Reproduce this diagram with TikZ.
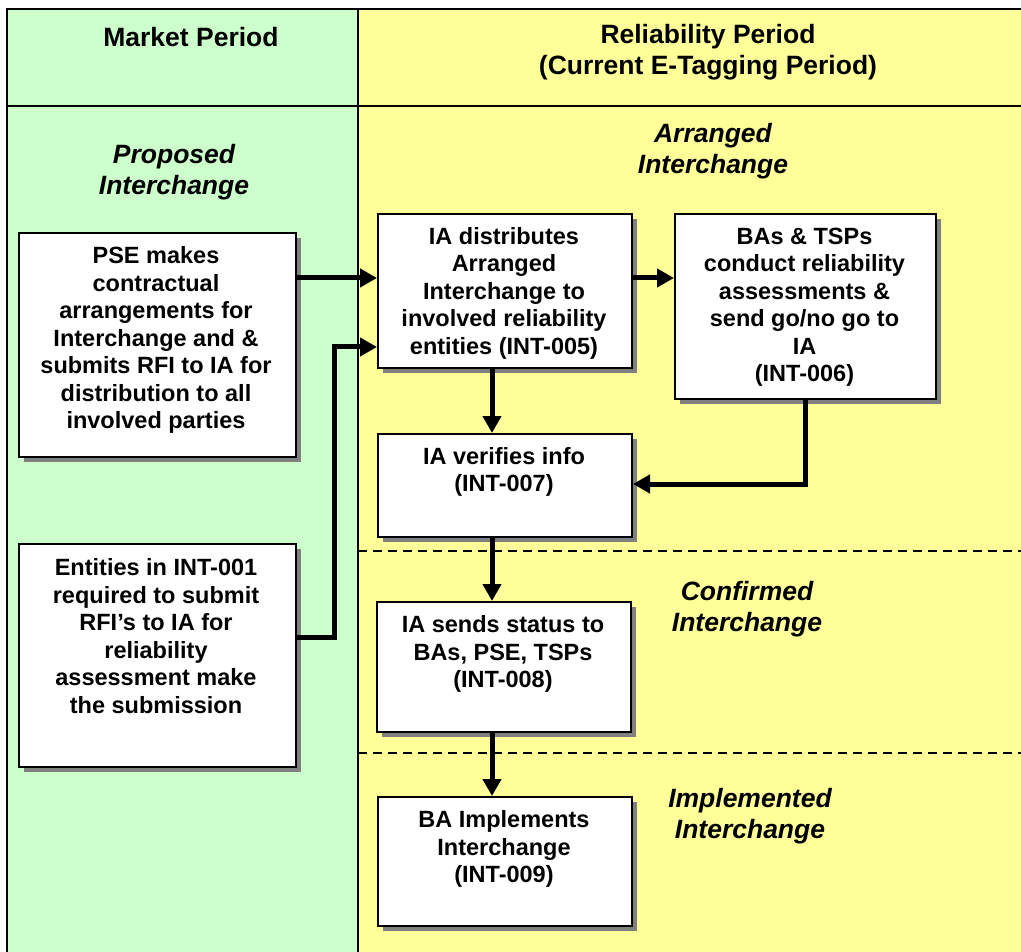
\documentclass[tikz,border=0pt]{standalone}
\usepackage{fontspec}
\setmainfont{Liberation Sans}
\usetikzlibrary{arrows.meta,shadows}
\definecolor{mkgreen}{HTML}{CCFFCC}
\definecolor{relyellow}{HTML}{FFFF99}
\definecolor{shadowgray}{HTML}{808080}
\begin{document}
\begin{tikzpicture}[x=1pt,y=-1pt,
  box/.style={draw=black, line width=2pt, fill=white, inner sep=0pt, anchor=north west,
    drop shadow={shadow xshift=5pt, shadow yshift=-5pt, fill=shadowgray, opacity=1}},
  boxtext/.style={align=center, font=\fontsize{23.5}{27.5}\selectfont\bfseries, inner sep=0pt},
  hdr/.style={align=center, font=\fontsize{26.5}{31}\selectfont\bfseries, inner sep=0pt},
  phase/.style={align=center, font=\fontsize{26.5}{30.5}\selectfont\bfseries\itshape, inner sep=0pt},
  arr/.style={line width=5pt, -{Triangle[length=17pt,width=18pt]}},
  frame/.style={line width=2pt, draw=black},
  divider/.style={line width=1.5pt, dash pattern=on 9pt off 6pt}]
\useasboundingbox (0,0) rectangle (1021,952);
\clip (0,0) rectangle (1021,952);
% background columns
\fill[white] (0,0) rectangle (1021,952);
\fill[mkgreen] (7,9) rectangle (358,970);
\fill[relyellow] (358,9) rectangle (1040,970);
\draw[frame] (7,970) -- (7,9) -- (1040,9);
\draw[frame] (7,106) -- (1040,106);
\draw[frame] (358,9) -- (358,970);
\draw[divider] (358,551) -- (1040,551);
\draw[divider] (358,753) -- (1040,753);
% headers
\node[hdr] (hmarket) at (191,37) {Market Period};
\node[hdr] (hrel) at (708,52) {Reliability Period\\(Current E-Tagging Period)};
% phase labels
\node[phase] (pprop) at (174,172) {Proposed\\Interchange};
\node[phase] (parr) at (713,151) {Arranged\\Interchange};
\node[phase] (pconf) at (747,609) {Confirmed\\Interchange};
\node[phase] (pimpl) at (750,816) {Implemented\\Interchange};
% boxes
\node[box, minimum width=277pt, minimum height=224pt] (pse) at (18,232) {};
\node[boxtext] at (156,340) {PSE makes\\contractual\\arrangements for\\Interchange and \&\\submits RFI to IA for\\distribution to all\\involved parties};
\node[box, minimum width=277pt, minimum height=223pt] (ent) at (18,543) {};
\node[boxtext] at (156,636) {Entities in INT-001\\required to submit\\RFI’s to IA for\\reliability\\assessment make\\the submission};
\node[box, minimum width=254pt, minimum height=154pt] (dist) at (377,213) {};
\node[boxtext] at (504,293) {IA distributes\\Arranged\\Interchange to\\involved reliability\\entities (INT-005)};
\node[box, minimum width=261pt, minimum height=185pt] (bas) at (674,213) {};
\node[boxtext] at (804.5,307) {BAs \& TSPs\\conduct reliability\\assessments \&\\send go/no go to\\IA\\(INT-006)};
\node[box, minimum width=254pt, minimum height=103pt] (ver) at (377,433) {};
\node[boxtext] at (504,472) {IA verifies info\\(INT-007)};
\node[box, minimum width=254pt, minimum height=130pt] (sts) at (376,601) {};
\node[boxtext] at (503,654) {IA sends status to\\BAs, PSE, TSPs\\(INT-008)};
\node[box, minimum width=254pt, minimum height=129pt] (impl) at (377,796) {};
\node[boxtext] at (504,849) {BA Implements\\Interchange\\(INT-009)};
% connectors
\coordinate (bend) at (334,347);
\draw[arr] (pse.east |- 0,278) -- (dist.west |- 0,278);
\draw[arr, line join=miter] (ent.east |- 0,637) -| (bend) -- (dist.west |- bend);
\draw[arr] (dist.east |- 0,278) -- (bas.west |- 0,278);
\draw[arr] (dist.south -| 492,0) -- (ver.north -| 492,0);
\draw[arr, line join=miter] (bas.south) |- (ver.east |- 0,484);
\draw[arr] (ver.south -| 492,0) -- (sts.north -| 492,0);
\draw[arr] (sts.south -| 492,0) -- (impl.north -| 492,0);
\end{tikzpicture}
\end{document}
